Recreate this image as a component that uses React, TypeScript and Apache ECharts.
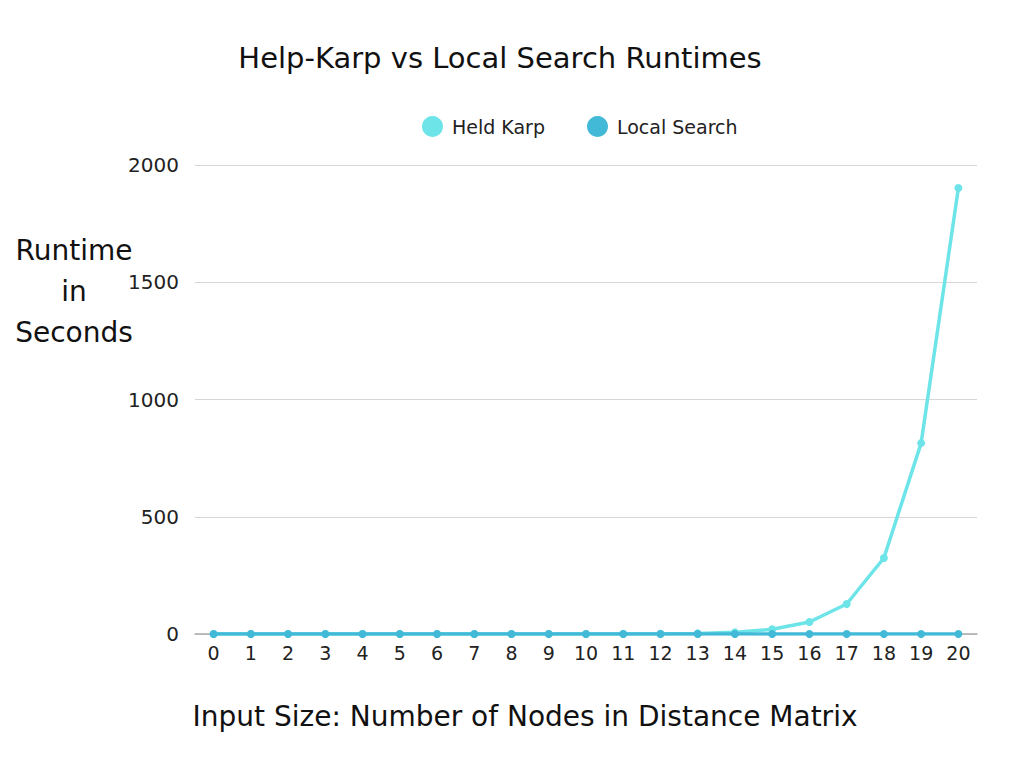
import React, { useEffect, useRef } from "react";
import * as echarts from "echarts";

const categories = ["0","1","2","3","4","5","6","7","8","9","10","11","12","13","14","15","16","17","18","19","20"];
const heldKarp = [0, 0, 0, 0, 0, 0, 0, 0, 0, 0.1, 0.2, 0.4, 1, 2.5, 7, 20, 51, 128, 324, 814, 1902];
const localSearch = [0, 0, 0, 0, 0, 0, 0, 0, 0, 0, 0, 0, 0, 0, 0, 0, 0, 0, 0, 0, 0];
const yTicks = { min: 0, max: 2000, interval: 500 };

const FONT = "'DejaVu Sans', 'Noto Sans', sans-serif";

export default function App() {
  const ref = useRef<HTMLDivElement>(null);
  useEffect(() => {
    if (!ref.current) return;
    const chart = echarts.init(ref.current, null, { renderer: "svg" });
    chart.setOption({
      animation: false,
      backgroundColor: "#ffffff",
      textStyle: { fontFamily: FONT },
      graphic: [
        {
          type: "text",
          x: 500,
          y: 58,
          style: {
            text: "Help-Karp vs Local Search Runtimes",
            align: "center",
            verticalAlign: "middle",
            fontFamily: FONT,
            fontSize: 29,
            fill: "#111",
          },
        },
        {
          type: "text",
          x: 74,
          y: 291,
          style: {
            text: "Runtime\nin\nSeconds",
            align: "center",
            verticalAlign: "middle",
            fontFamily: FONT,
            fontSize: 28,
            lineHeight: 41,
            fill: "#111",
          },
        },
        {
          type: "text",
          x: 525,
          y: 716,
          style: {
            text: "Input Size: Number of Nodes in Distance Matrix",
            align: "center",
            verticalAlign: "middle",
            fontFamily: FONT,
            fontSize: 28,
            fill: "#111",
          },
        },
      ],
      legend: {
        top: 111,
        left: 417,
        itemGap: 42,
        itemWidth: 21,
        itemHeight: 21,
        icon: "circle",
        textStyle: { fontFamily: FONT, fontSize: 19, color: "#222", padding: [0, 0, 0, 4] },
        data: ["Held Karp", "Local Search"],
      },
      grid: { left: 195, right: 47, top: 165, bottom: 134, containLabel: false },
      xAxis: {
        type: "category",
        data: categories,
        boundaryGap: true,
        axisLine: { lineStyle: { color: "#aaaaaa", width: 1.5 } },
        axisTick: { show: false },
        axisLabel: { fontFamily: FONT, fontSize: 19, color: "#222", margin: 9 },
      },
      yAxis: {
        type: "value",
        min: yTicks.min,
        max: yTicks.max,
        interval: yTicks.interval,
        axisLine: { show: false },
        axisTick: { show: false },
        splitLine: { lineStyle: { color: "#d6d6d6", width: 1 } },
        axisLabel: {
          fontFamily: FONT,
          fontSize: 20,
          color: "#222",
          margin: 16,
          formatter: (v: number) => String(v),
        },
      },
      series: [
        {
          name: "Held Karp",
          type: "line",
          data: heldKarp,
          color: "#6de4e8",
          symbol: "circle",
          symbolSize: 8,
          lineStyle: { width: 3.5, color: "#6de4e8" },
          itemStyle: { color: "#6de4e8" },
          z: 2,
        },
        {
          name: "Local Search",
          type: "line",
          data: localSearch,
          color: "#42b9d6",
          symbol: "circle",
          symbolSize: 8,
          lineStyle: { width: 3.5, color: "#42b9d6" },
          itemStyle: { color: "#42b9d6" },
          z: 3,
        },
      ],
    });
    return () => chart.dispose();
  }, []);
  return (
    <div
      ref={ref}
      style={{ position: "absolute", left: 0, top: 0, width: 1024, height: 768 }}
    />
  );
}
